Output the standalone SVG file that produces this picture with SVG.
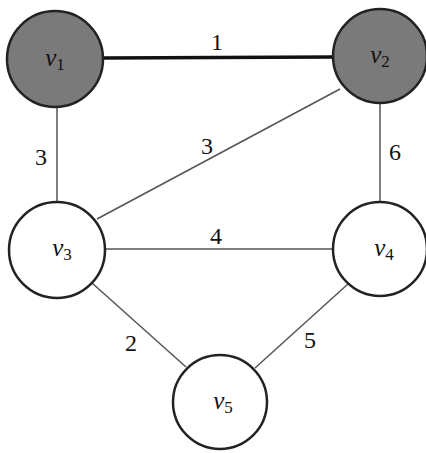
<svg xmlns="http://www.w3.org/2000/svg" width="426" height="453" viewBox="0 0 426 453">
<style>
.n{stroke:#222;stroke-width:2.5}
.f{fill:#7a7a7a}
.w{fill:#fff}
.e{stroke:#555;stroke-width:1.5;fill:none}
.t{stroke:#111;stroke-width:3.5;fill:none}
</style>
<rect width="426" height="453" fill="#fff"/>
<g id="edges">
<line class="t" x1="103" y1="58" x2="333" y2="57"/>
<line class="e" x1="57" y1="107" x2="57" y2="203"/>
<line class="e" x1="380" y1="103" x2="380" y2="202"/>
<line class="e" x1="340" y1="89" x2="97" y2="219"/>
<line class="e" x1="105" y1="249" x2="333" y2="249"/>
<line class="e" x1="92" y1="283" x2="186" y2="367"/>
<line class="e" x1="348" y1="284" x2="255" y2="368"/>
<g font-family="Liberation Serif, DejaVu Serif, serif" font-size="24" fill="#111" text-anchor="middle">
<text x="217" y="50">1</text>
<text x="41" y="165">3</text>
<text x="207" y="154">3</text>
<text x="395" y="160">6</text>
<text x="216" y="244">4</text>
<text x="131" y="351">2</text>
<text x="310" y="348">5</text>
</g>
</g>
<g font-family="Liberation Serif, DejaVu Serif, serif" font-size="25" font-style="italic" fill="#111" text-anchor="middle">
<g id="v1"><circle class="n f" cx="55" cy="59" r="48"/><text x="55" y="66">v<tspan font-size="17" font-style="normal" dy="4">1</tspan></text></g>
<g id="v2"><circle class="n f" cx="380" cy="56" r="47"/><text x="380" y="63">v<tspan font-size="17" font-style="normal" dy="4">2</tspan></text></g>
<g id="v3"><circle class="n w" cx="57" cy="250" r="48"/><text x="62" y="256">v<tspan font-size="17" font-style="normal" dy="4">3</tspan></text></g>
<g id="v4"><circle class="n w" cx="380" cy="249" r="47"/><text x="384" y="256">v<tspan font-size="17" font-style="normal" dy="4">4</tspan></text></g>
<g id="v5"><circle class="n w" cx="220" cy="402" r="47"/><text x="223" y="409">v<tspan font-size="17" font-style="normal" dy="4">5</tspan></text></g>
</g>
</svg>
